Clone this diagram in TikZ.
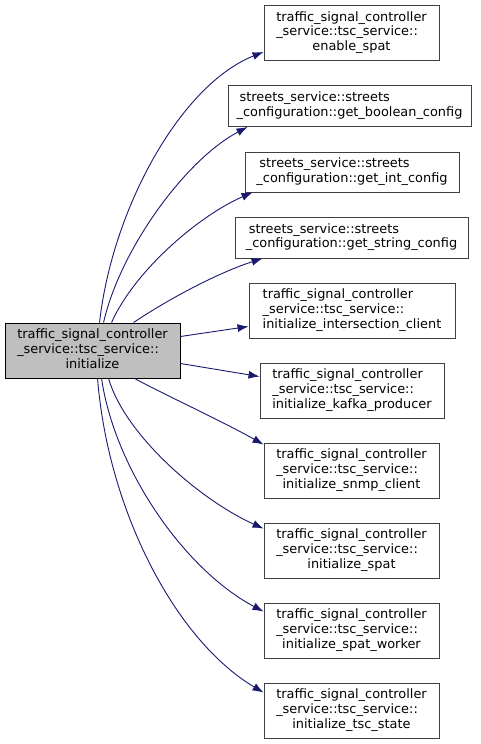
\documentclass[tikz,border=0pt]{standalone}
\usepackage{fontspec}
\setmainfont{DejaVu Sans}
\usetikzlibrary{arrows.meta}
\definecolor{edgeblue}{HTML}{191970}
\definecolor{nodeborder}{HTML}{404040}
\definecolor{mainfill}{HTML}{BFBFBF}
\newcommand{\tsclab}[1]{\begin{tabular}{@{}l@{}}traffic\_signal\_controller\\\_service::tsc\_service::\\\multicolumn{1}{@{}c@{}}{#1}\end{tabular}}
\newcommand{\stlab}[1]{\begin{tabular}{@{}l@{}}\hspace*{3pt}streets\_service::streets\\\_configuration::#1\end{tabular}}
\begin{document}
\begin{tikzpicture}[x=1pt,y=-1pt,
  box/.style={draw=nodeborder,line width=0.9pt,fill=white,inner sep=0pt,
    font=\fontsize{12.9}{14.7}\selectfont,minimum height=55pt},
  box2/.style={box,minimum height=41pt},
  call/.style={draw=edgeblue,line width=0.9pt,-{Latex[length=11pt,width=8pt]}}]
\useasboundingbox (0,0) rectangle (481,744);
\node[box,fill=mainfill,draw=black,minimum width=175pt] (src) at (92.5,350.5) {\tsclab{initialize}};
\node[box,minimum width=175pt] (t1) at (351.5,33) {\tsclab{enable\_spat}};
\node[box2,minimum width=243pt] (t2) at (349.5,106) {\stlab{get\_boolean\_config}};
\node[box2,minimum width=214pt,minimum height=40pt] (t3) at (352,172) {\stlab{get\_int\_config}};
\node[box2,minimum width=233pt] (t4) at (351.5,237.5) {\stlab{get\_string\_config}};
\node[box,minimum width=206pt] (t5) at (352,310.5) {\tsclab{initialize\_intersection\_client}};
\node[box,minimum width=184pt] (t6) at (352,390.5) {\tsclab{initialize\_kafka\_producer}};
\node[box,minimum width=175pt] (t7) at (351.5,470.5) {\tsclab{initialize\_snmp\_client}};
\node[box,minimum width=175pt] (t8) at (351.5,550.5) {\tsclab{initialize\_spat}};
\node[box,minimum width=175pt] (t9) at (351.5,630.5) {\tsclab{initialize\_spat\_worker}};
\node[box,minimum width=175pt] (t10) at (351.5,710.5) {\tsclab{initialize\_tsc\_state}};
\draw[call] ([xshift=95pt]src.north west) .. controls (112,210) and (180,85) .. ([yshift=9pt]t1.south west);
\draw[call] ([xshift=99pt]src.north west) .. controls (120,250) and (185,160) .. ([xshift=20pt]t2.south west);
\draw[call] ([xshift=107pt]src.north west) .. controls (135,270) and (200,215) .. ([xshift=8pt]t3.south west);
\draw[call] ([xshift=129pt]src.north west) .. controls (170,298) and (220,272) .. ([xshift=28pt]t4.south west);
\draw[call] ([yshift=14pt]src.east) -- ([yshift=12pt]t5.south west);
\draw[call] ([yshift=-13pt]src.east) -- ([yshift=-14pt]t6.north west);
\draw[call] ([xshift=130pt]src.south west) .. controls (165,395) and (220,420) .. ([yshift=-2pt]t7.north west);
\draw[call] ([xshift=104pt]src.south west) .. controls (125,435) and (200,500) .. ([yshift=-6pt]t8.north west);
\draw[call] ([xshift=97pt]src.south west) .. controls (115,470) and (185,570) .. ([yshift=-9pt]t9.north west);
\draw[call] ([xshift=93pt]src.south west) .. controls (108,510) and (175,640) .. ([yshift=-10pt]t10.north west);
\end{tikzpicture}
\end{document}
